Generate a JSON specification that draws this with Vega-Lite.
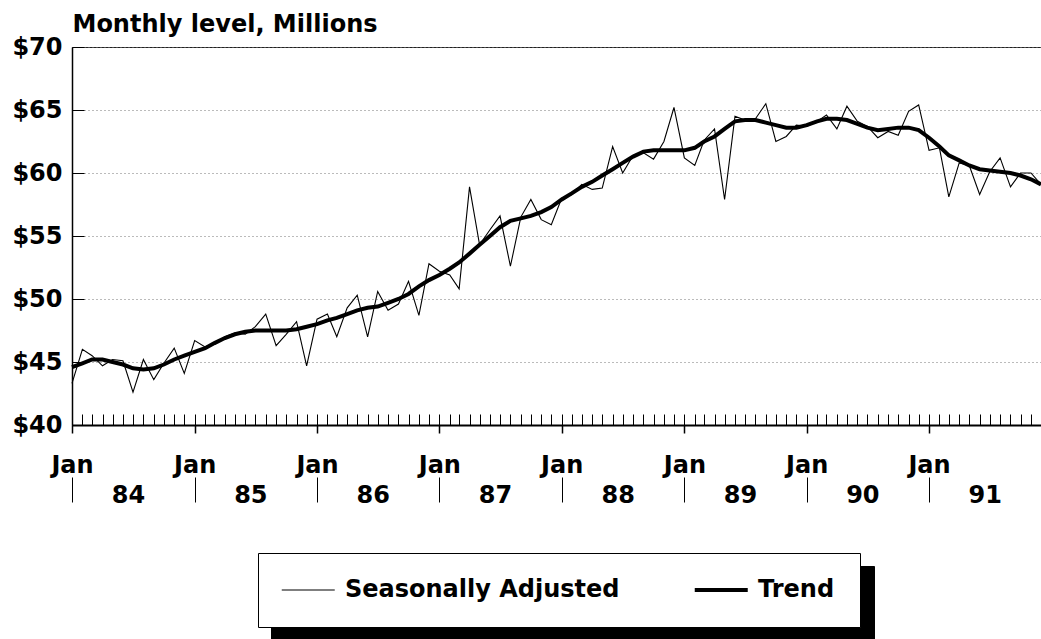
{
  "$schema": "https://vega.github.io/schema/vega-lite/v6.json",
  "width": 969,
  "height": 378,
  "autosize": "none",
  "padding": {"left": 72, "top": 47, "right": 0, "bottom": 214},
  "background": "white",
  "config": {"view": {"stroke": "#222", "strokeWidth": 1}},
  "datasets": {
    "monthly": [
      {"date": "1984-01-01", "sa": 43.3, "trend": 44.6},
      {"date": "1984-02-01", "sa": 46.0, "trend": 44.9},
      {"date": "1984-03-01", "sa": 45.5, "trend": 45.2},
      {"date": "1984-04-01", "sa": 44.7, "trend": 45.2},
      {"date": "1984-05-01", "sa": 45.2, "trend": 45.0},
      {"date": "1984-06-01", "sa": 45.1, "trend": 44.8},
      {"date": "1984-07-01", "sa": 42.6, "trend": 44.5},
      {"date": "1984-08-01", "sa": 45.2, "trend": 44.4},
      {"date": "1984-09-01", "sa": 43.6, "trend": 44.5},
      {"date": "1984-10-01", "sa": 44.9, "trend": 44.8},
      {"date": "1984-11-01", "sa": 46.1, "trend": 45.2},
      {"date": "1984-12-01", "sa": 44.1, "trend": 45.5},
      {"date": "1985-01-01", "sa": 46.7, "trend": 45.8},
      {"date": "1985-02-01", "sa": 46.2, "trend": 46.1},
      {"date": "1985-03-01", "sa": 46.4, "trend": 46.5},
      {"date": "1985-04-01", "sa": 47.0, "trend": 46.9},
      {"date": "1985-05-01", "sa": 47.3, "trend": 47.2},
      {"date": "1985-06-01", "sa": 47.2, "trend": 47.4},
      {"date": "1985-07-01", "sa": 47.8, "trend": 47.5},
      {"date": "1985-08-01", "sa": 48.8, "trend": 47.5},
      {"date": "1985-09-01", "sa": 46.3, "trend": 47.5},
      {"date": "1985-10-01", "sa": 47.2, "trend": 47.5},
      {"date": "1985-11-01", "sa": 48.2, "trend": 47.6},
      {"date": "1985-12-01", "sa": 44.7, "trend": 47.8},
      {"date": "1986-01-01", "sa": 48.4, "trend": 48.0},
      {"date": "1986-02-01", "sa": 48.8, "trend": 48.3},
      {"date": "1986-03-01", "sa": 47.0, "trend": 48.5},
      {"date": "1986-04-01", "sa": 49.3, "trend": 48.8},
      {"date": "1986-05-01", "sa": 50.3, "trend": 49.1},
      {"date": "1986-06-01", "sa": 47.0, "trend": 49.3},
      {"date": "1986-07-01", "sa": 50.6, "trend": 49.4},
      {"date": "1986-08-01", "sa": 49.1, "trend": 49.7},
      {"date": "1986-09-01", "sa": 49.6, "trend": 50.0},
      {"date": "1986-10-01", "sa": 51.4, "trend": 50.4},
      {"date": "1986-11-01", "sa": 48.7, "trend": 51.0},
      {"date": "1986-12-01", "sa": 52.8, "trend": 51.5},
      {"date": "1987-01-01", "sa": 52.2, "trend": 51.9},
      {"date": "1987-02-01", "sa": 51.9, "trend": 52.4},
      {"date": "1987-03-01", "sa": 50.8, "trend": 52.9},
      {"date": "1987-04-01", "sa": 58.9, "trend": 53.6},
      {"date": "1987-05-01", "sa": 54.3, "trend": 54.3},
      {"date": "1987-06-01", "sa": 55.5, "trend": 55.0},
      {"date": "1987-07-01", "sa": 56.6, "trend": 55.7},
      {"date": "1987-08-01", "sa": 52.6, "trend": 56.2},
      {"date": "1987-09-01", "sa": 56.5, "trend": 56.4},
      {"date": "1987-10-01", "sa": 57.9, "trend": 56.6},
      {"date": "1987-11-01", "sa": 56.3, "trend": 56.9},
      {"date": "1987-12-01", "sa": 55.9, "trend": 57.3},
      {"date": "1988-01-01", "sa": 58.0, "trend": 57.9},
      {"date": "1988-02-01", "sa": 58.3, "trend": 58.4},
      {"date": "1988-03-01", "sa": 59.1, "trend": 58.9},
      {"date": "1988-04-01", "sa": 58.7, "trend": 59.3},
      {"date": "1988-05-01", "sa": 58.8, "trend": 59.8},
      {"date": "1988-06-01", "sa": 62.1, "trend": 60.3},
      {"date": "1988-07-01", "sa": 60.0, "trend": 60.8},
      {"date": "1988-08-01", "sa": 61.4, "trend": 61.3},
      {"date": "1988-09-01", "sa": 61.6, "trend": 61.7},
      {"date": "1988-10-01", "sa": 61.1, "trend": 61.8},
      {"date": "1988-11-01", "sa": 62.5, "trend": 61.8},
      {"date": "1988-12-01", "sa": 65.2, "trend": 61.8},
      {"date": "1989-01-01", "sa": 61.2, "trend": 61.8},
      {"date": "1989-02-01", "sa": 60.6, "trend": 62.0},
      {"date": "1989-03-01", "sa": 62.6, "trend": 62.5},
      {"date": "1989-04-01", "sa": 63.5, "trend": 62.9},
      {"date": "1989-05-01", "sa": 57.9, "trend": 63.5},
      {"date": "1989-06-01", "sa": 64.5, "trend": 64.1},
      {"date": "1989-07-01", "sa": 64.2, "trend": 64.2},
      {"date": "1989-08-01", "sa": 64.3, "trend": 64.2},
      {"date": "1989-09-01", "sa": 65.5, "trend": 64.0},
      {"date": "1989-10-01", "sa": 62.5, "trend": 63.8},
      {"date": "1989-11-01", "sa": 62.9, "trend": 63.6},
      {"date": "1989-12-01", "sa": 63.8, "trend": 63.6},
      {"date": "1990-01-01", "sa": 63.7, "trend": 63.8},
      {"date": "1990-02-01", "sa": 64.1, "trend": 64.1},
      {"date": "1990-03-01", "sa": 64.6, "trend": 64.3},
      {"date": "1990-04-01", "sa": 63.5, "trend": 64.3},
      {"date": "1990-05-01", "sa": 65.3, "trend": 64.2},
      {"date": "1990-06-01", "sa": 64.1, "trend": 63.9},
      {"date": "1990-07-01", "sa": 63.7, "trend": 63.6},
      {"date": "1990-08-01", "sa": 62.8, "trend": 63.4},
      {"date": "1990-09-01", "sa": 63.3, "trend": 63.5},
      {"date": "1990-10-01", "sa": 63.0, "trend": 63.6},
      {"date": "1990-11-01", "sa": 64.9, "trend": 63.6},
      {"date": "1990-12-01", "sa": 65.4, "trend": 63.4},
      {"date": "1991-01-01", "sa": 61.8, "trend": 62.8},
      {"date": "1991-02-01", "sa": 62.0, "trend": 62.1},
      {"date": "1991-03-01", "sa": 58.1, "trend": 61.4},
      {"date": "1991-04-01", "sa": 60.8, "trend": 61.0},
      {"date": "1991-05-01", "sa": 60.6, "trend": 60.6},
      {"date": "1991-06-01", "sa": 58.3, "trend": 60.3},
      {"date": "1991-07-01", "sa": 60.1, "trend": 60.2},
      {"date": "1991-08-01", "sa": 61.2, "trend": 60.1},
      {"date": "1991-09-01", "sa": 58.9, "trend": 60.0},
      {"date": "1991-10-01", "sa": 60.0, "trend": 59.8},
      {"date": "1991-11-01", "sa": 60.0, "trend": 59.5},
      {"date": "1991-12-01", "sa": 59.1, "trend": 59.1}
    ],
    "legendEntries": [
      {"name": "Seasonally Adjusted"},
      {"name": "Trend"}
    ]
  },
  "data": {"name": "monthly"},
  "layer": [
    {
      "mark": {"type": "line", "color": "black", "strokeWidth": 1.1},
      "encoding": {
        "x": {
          "field": "date",
          "type": "temporal",
          "scale": {
            "type": "utc",
            "domain": [
              {"year": 1984, "month": 1, "date": 1, "utc": true},
              {"year": 1991, "month": 12, "date": 1, "utc": true}
            ]
          },
          "axis": {
            "orient": "bottom",
            "title": null,
            "tickCount": {"interval": "month", "step": 1},
            "tickSize": -11,
            "tickColor": "black",
            "tickWidth": 1,
            "domain": true,
            "domainColor": "black",
            "domainWidth": 2,
            "grid": false,
            "labelExpr": "utcFormat(datum.value, '%m') == '07' ? utcFormat(datum.value, '%y') : ''",
            "labelOverlap": false,
            "labelFlush": false,
            "labelBound": false,
            "labelPadding": 69,
            "labelOffset": -5,
            "labelFont": "DejaVu Sans",
            "labelFontWeight": "bold",
            "labelFontSize": 24,
            "labelColor": "black"
          }
        },
        "y": {
          "field": "sa",
          "type": "quantitative",
          "scale": {"domain": [40, 70], "nice": false, "zero": false},
          "axis": {
            "values": [40, 45, 50, 55, 60, 65, 70],
            "tickSize": -12,
            "tickColor": "black",
            "tickWidth": 1,
            "domain": true,
            "domainColor": "black",
            "domainWidth": 1.5,
            "grid": true,
            "gridColor": "#777",
            "gridDash": [1, 3],
            "gridWidth": 1,
            "labelExpr": "'$' + datum.value",
            "labelPadding": 22,
            "labelBound": false,
            "labelFont": "DejaVu Sans",
            "labelFontWeight": "bold",
            "labelFontSize": 24,
            "labelColor": "black",
            "title": "Monthly level, Millions",
            "titleAngle": 0,
            "titleX": 0,
            "titleY": -16,
            "titleAlign": "left",
            "titleBaseline": "alphabetic",
            "titleFont": "DejaVu Sans",
            "titleFontWeight": "bold",
            "titleFontSize": 24,
            "titleColor": "black"
          }
        },
        "stroke": {
          "datum": "Seasonally Adjusted",
          "type": "nominal",
          "scale": {"domain": ["Seasonally Adjusted", "Trend"], "range": ["black", "black"]},
          "legend": {
            "orient": "none",
            "legendX": 186,
            "legendY": 506,
            "direction": "horizontal",
            "title": null,
            "padding": 25,
            "fillColor": "white",
            "strokeColor": "black",
            "symbolType": "M-1,0H3",
            "symbolSize": 702,
            "symbolStrokeColor": "black",
            "labelFont": "DejaVu Sans",
            "labelFontWeight": "bold",
            "labelFontSize": 24,
            "labelColor": "black",
            "labelOffset": 38,
            "labelLimit": 500,
            "columnPadding": 66,
            "zindex": 2,
            "encode": {
              "symbols": {
                "update": {
                  "strokeWidth": {"signal": "datum.value === 'Trend' ? 4 : 1.2"}
                }
              }
            }
          }
        }
      }
    },
    {
      "mark": {"type": "line", "color": "black", "strokeWidth": 4},
      "encoding": {
        "x": {
          "field": "date",
          "type": "temporal",
          "axis": {
            "orient": "bottom",
            "title": null,
            "values": [
              {"year": 1984, "month": 1, "date": 1, "utc": true},
              {"year": 1985, "month": 1, "date": 1, "utc": true},
              {"year": 1986, "month": 1, "date": 1, "utc": true},
              {"year": 1987, "month": 1, "date": 1, "utc": true},
              {"year": 1988, "month": 1, "date": 1, "utc": true},
              {"year": 1989, "month": 1, "date": 1, "utc": true},
              {"year": 1990, "month": 1, "date": 1, "utc": true},
              {"year": 1991, "month": 1, "date": 1, "utc": true}
            ],
            "tickSize": 8,
            "tickWidth": 1.5,
            "tickColor": "black",
            "domain": false,
            "grid": false,
            "labelExpr": "'Jan'",
            "labelPadding": 20,
            "labelOverlap": false,
            "labelFlush": false,
            "labelBound": false,
            "labelFont": "DejaVu Sans",
            "labelFontWeight": "bold",
            "labelFontSize": 24,
            "labelColor": "black"
          }
        },
        "y": {
          "field": "trend",
          "type": "quantitative",
          "axis": {
            "values": [40, 45, 50, 55, 60, 65, 70],
            "tickSize": -12,
            "tickColor": "black",
            "tickWidth": 1,
            "domain": true,
            "domainColor": "black",
            "domainWidth": 1.5,
            "grid": true,
            "gridColor": "#777",
            "gridDash": [1, 3],
            "gridWidth": 1,
            "labelExpr": "'$' + datum.value",
            "labelPadding": 22,
            "labelBound": false,
            "labelFont": "DejaVu Sans",
            "labelFontWeight": "bold",
            "labelFontSize": 24,
            "labelColor": "black",
            "title": "Monthly level, Millions",
            "titleAngle": 0,
            "titleX": 0,
            "titleY": -16,
            "titleAlign": "left",
            "titleBaseline": "alphabetic",
            "titleFont": "DejaVu Sans",
            "titleFontWeight": "bold",
            "titleFontSize": 24,
            "titleColor": "black"
          }
        },
        "stroke": {"datum": "Trend", "type": "nominal"}
      }
    },
    {
      "data": {"name": "legendEntries"},
      "mark": {"type": "point", "size": 0, "filled": true},
      "encoding": {
        "x": {
          "datum": {"year": 1984, "month": 1, "date": 1, "utc": true},
          "type": "temporal",
          "axis": {
            "orient": "bottom",
            "title": null,
            "values": [
              {"year": 1984, "month": 1, "date": 1, "utc": true},
              {"year": 1985, "month": 1, "date": 1, "utc": true},
              {"year": 1986, "month": 1, "date": 1, "utc": true},
              {"year": 1987, "month": 1, "date": 1, "utc": true},
              {"year": 1988, "month": 1, "date": 1, "utc": true},
              {"year": 1989, "month": 1, "date": 1, "utc": true},
              {"year": 1990, "month": 1, "date": 1, "utc": true},
              {"year": 1991, "month": 1, "date": 1, "utc": true}
            ],
            "offset": 52,
            "tickSize": 25,
            "tickWidth": 1,
            "tickColor": "black",
            "domain": false,
            "labels": false,
            "grid": false
          }
        },
        "fill": {
          "field": "name",
          "type": "nominal",
          "scale": {"range": ["black", "black"]},
          "legend": {
            "orient": "none",
            "legendX": 199,
            "legendY": 519,
            "direction": "horizontal",
            "title": null,
            "padding": 25,
            "fillColor": "black",
            "strokeColor": "black",
            "symbolType": "M-1,0H3",
            "symbolSize": 702,
            "symbolStrokeColor": "black",
            "symbolFillColor": "black",
            "labelFont": "DejaVu Sans",
            "labelFontWeight": "bold",
            "labelFontSize": 24,
            "labelColor": "black",
            "labelOffset": 38,
            "labelLimit": 500,
            "columnPadding": 66,
            "zindex": 1
          }
        }
      }
    }
  ],
  "resolve": {"axis": {"x": "independent"}}
}
